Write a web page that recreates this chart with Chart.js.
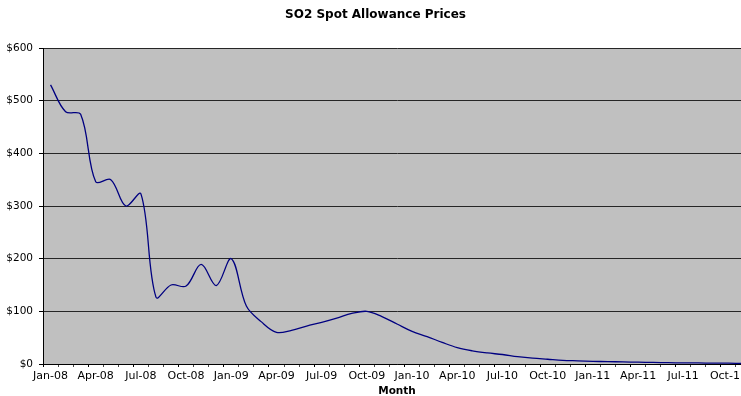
<!DOCTYPE html>
<html>
<head>
<meta charset="utf-8">
<script src="https://cdn.jsdelivr.net/npm/chart.js@4"></script>
<style>
  html, body { margin: 0; padding: 0; background: #fff; overflow: hidden; }
  /* the original chart is a bit wider than the picture, its right edge is cut off */
  #wrap { position: relative; width: 760px; height: 396px; }
</style>
</head>
<body>
<div id="wrap"><canvas id="chart"></canvas></div>
<script>
  const months = [
    'Jan-08', 'Feb-08', 'Mar-08', 'Apr-08', 'May-08', 'Jun-08', 'Jul-08', 'Aug-08', 'Sep-08', 'Oct-08', 'Nov-08', 'Dec-08',
    'Jan-09', 'Feb-09', 'Mar-09', 'Apr-09', 'May-09', 'Jun-09', 'Jul-09', 'Aug-09', 'Sep-09', 'Oct-09', 'Nov-09', 'Dec-09',
    'Jan-10', 'Feb-10', 'Mar-10', 'Apr-10', 'May-10', 'Jun-10', 'Jul-10', 'Aug-10', 'Sep-10', 'Oct-10', 'Nov-10', 'Dec-10',
    'Jan-11', 'Feb-11', 'Mar-11', 'Apr-11', 'May-11', 'Jun-11', 'Jul-11', 'Aug-11', 'Sep-11', 'Oct-11', 'Nov-11'
  ];

  const prices = [
    530, 479, 474, 346, 350, 300, 323, 127, 150, 148, 189, 149,
    200, 110, 80, 60, 64, 72, 79, 87, 96, 100, 90, 76,
    62, 52, 41, 31, 25, 21, 18, 14, 11, 9, 7, 6,
    5, 4.5, 4, 3.5, 3, 2.5, 2, 2, 1.5, 1.5, 1
  ];

  const yMin = 0;
  const yMax = 600;
  const yStep = 100;
  const labelEvery = 3;

  const FONT = 'DejaVu Sans';

  // grey plot area like the old Excel default
  const plotBg = {
    id: 'plotBg',
    beforeDraw: function (chart) {
      var a = chart.chartArea;
      var ctx = chart.ctx;
      ctx.save();
      ctx.fillStyle = '#c0c0c0';
      ctx.fillRect(a.left, a.top, a.right - a.left, a.bottom - a.top);
      ctx.restore();
    }
  };

  new Chart(document.getElementById('chart'), {
    type: 'line',
    data: {
      labels: months,
      datasets: [{
        data: prices,
        borderColor: '#000080',
        borderWidth: 1.3,
        pointRadius: 0,
        fill: false,
        tension: 0.35
      }]
    },
    options: {
      responsive: true,
      maintainAspectRatio: false,
      animation: false,
      layout: { padding: { left: 0, right: 9, top: 0, bottom: 0 } },
      plugins: {
        legend: { display: false },
        tooltip: { enabled: false },
        title: {
          display: true,
          text: 'SO2 Spot Allowance Prices',
          color: '#000',
          font: { family: FONT, size: 12, weight: 'bold' },
          padding: { top: 8, bottom: 25.6 }
        }
      },
      scales: {
        x: {
          type: 'category',
          offset: true,
          grid: {
            offset: true,
            drawOnChartArea: false,
            tickLength: 3,
            tickColor: function (c) { return c.index % labelEvery === 0 ? '#000' : '#444'; }
          },
          border: { color: '#000', width: 1 },
          ticks: {
            autoSkip: false,
            maxRotation: 0,
            minRotation: 0,
            padding: 3,
            color: '#000',
            font: { family: FONT, size: 11 },
            callback: function (v, i) { return i % labelEvery === 0 ? months[i] : ''; }
          },
          title: {
            display: true,
            text: 'Month',
            color: '#000',
            font: { family: FONT, size: 10.5, weight: 'bold' },
            padding: { top: 0, bottom: -2 }
          },
          afterFit: function (s) { s.height = 32; }
        },
        y: {
          min: yMin,
          max: yMax,
          grid: { color: '#262626', lineWidth: 1, tickLength: 4, tickColor: '#000' },
          border: { color: '#000', width: 1 },
          ticks: {
            stepSize: yStep,
            padding: 6,
            color: '#000',
            font: { family: FONT, size: 10.5 },
            callback: function (v) { return '$' + v; }
          },
          afterFit: function (s) { s.width = 43; }
        }
      }
    },
    plugins: [plotBg]
  });
</script>
</body>
</html>
